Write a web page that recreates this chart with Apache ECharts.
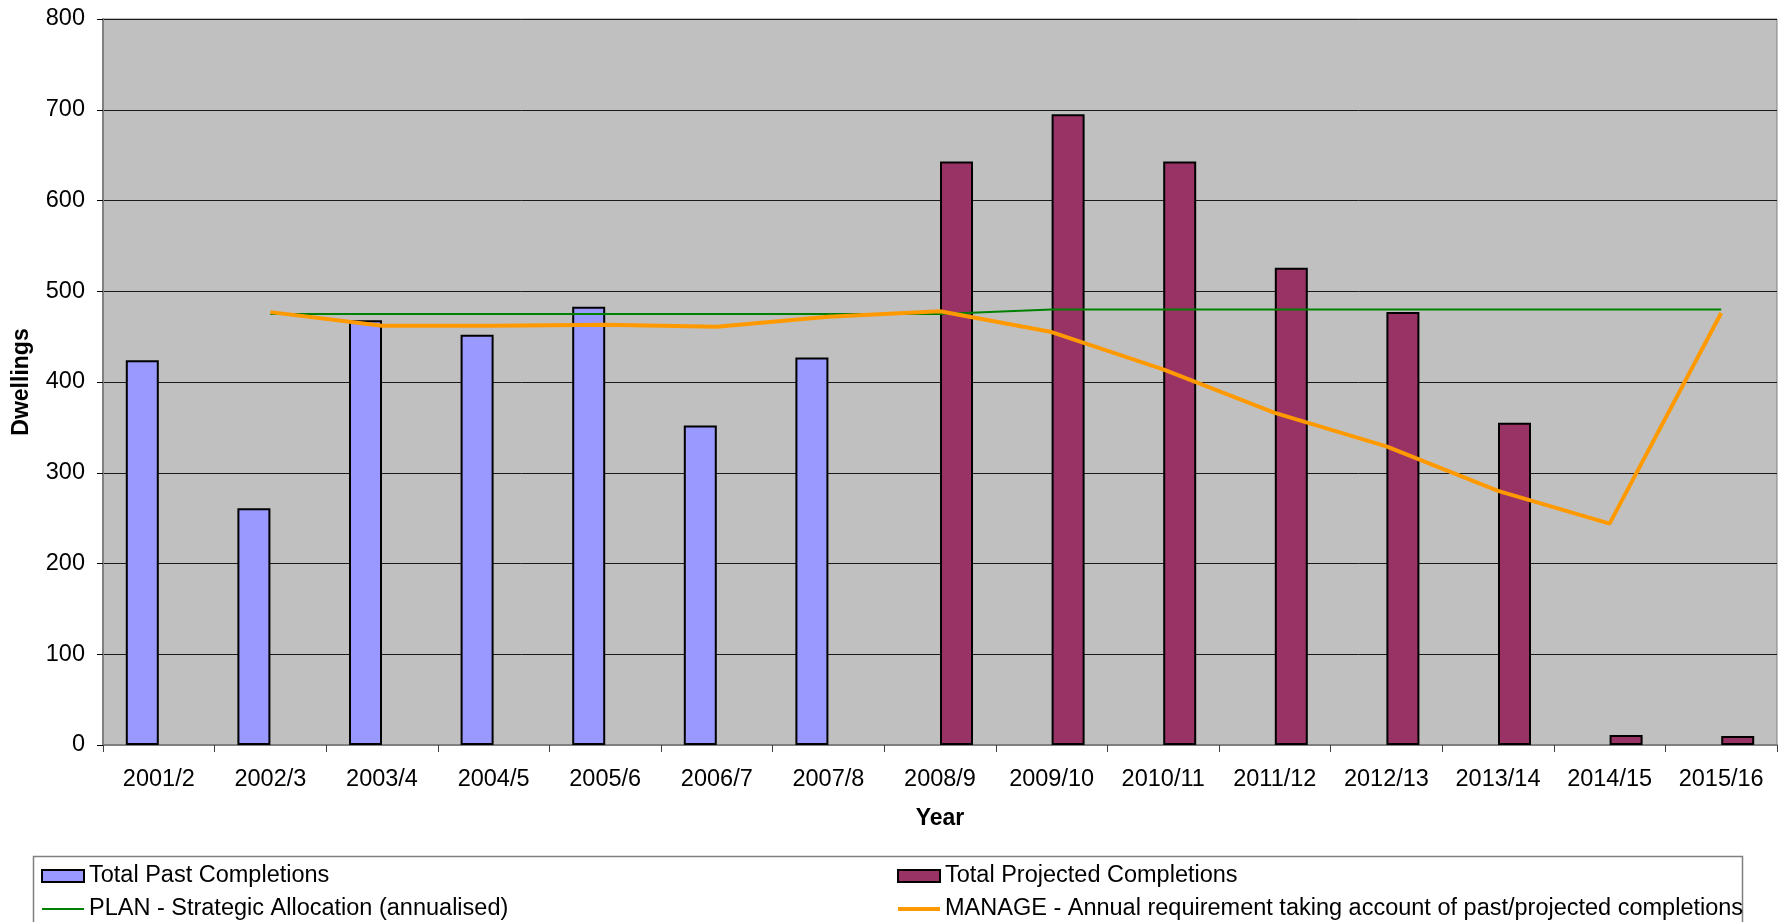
<!DOCTYPE html>
<html>
<head>
<meta charset="utf-8">
<script src="https://cdn.jsdelivr.net/npm/echarts@6/dist/echarts.min.js"></script>
<style>
html,body{margin:0;padding:0;background:#fff;}
#c{width:1779px;height:922px;}
</style>
</head>
<body>
<div id="c"></div>
<script>
var categories = ['2001/2','2002/3','2003/4','2004/5','2005/6','2006/7','2007/8','2008/9','2009/10','2010/11','2011/12','2012/13','2013/14','2014/15','2015/16'];
var pastCompletions = [424, 261, 468, 452, 483, 352, 427, null, null, null, null, null, null, null, null];
var projectedCompletions = [null, null, null, null, null, null, null, 643, 695, 643, 526, 477, 355, 11, 10];
var planAllocation = [null, 475, 475, 475, 475, 475, 475, 475, 480, 480, 480, 480, 480, 480, 480];
var manageRequirement = [null, 477, 462, 462, 463, 461, 472, 478, 455, 414, 366, 329, 280, 244, 476];
var yTicks = {min: 0, max: 800, interval: 100};

var FONT = '"Liberation Sans", Arial, sans-serif';
var chart = echarts.init(document.getElementById('c'), null, {renderer: 'canvas'});
var legendText = {color: '#000', fontSize: 23.5, fontFamily: FONT, lineHeight: 22};
chart.setOption({
  animation: false,
  backgroundColor: '#ffffff',
  grid: {left: 103, right: 2, top: 19, bottom: 177, show: true, backgroundColor: '#C0C0C0', borderColor: '#808080', borderWidth: 1},
  xAxis: {
    type: 'category',
    data: categories,
    name: 'Year',
    nameLocation: 'middle',
    nameGap: 62,
    nameTextStyle: {color: '#000', fontSize: 23, fontWeight: 'bold', fontFamily: FONT},
    axisLine: {lineStyle: {color: '#808080', width: 2}},
    axisTick: {show: true, length: 7, lineStyle: {color: '#404040', width: 1}},
    axisLabel: {color: '#000', fontSize: 23.5, fontFamily: FONT, margin: 23, interval: 0},
    splitLine: {show: false}
  },
  yAxis: {
    type: 'value',
    min: yTicks.min, max: yTicks.max, interval: yTicks.interval,
    name: 'Dwellings',
    nameLocation: 'middle',
    nameGap: 70,
    nameTextStyle: {color: '#000', fontSize: 23, fontWeight: 'bold', fontFamily: FONT},
    axisLine: {show: true, lineStyle: {color: '#808080', width: 2}},
    axisTick: {show: true, length: 6, lineStyle: {color: '#000', width: 1}},
    axisLabel: {color: '#000', fontSize: 23.5, fontFamily: FONT, margin: 18},
    splitLine: {show: true, lineStyle: {color: '#1a1a1a', width: 1}}
  },
  legend: [
    {
      orient: 'vertical', left: 41, top: 864, height: 70, padding: 0, itemGap: 9,
      itemWidth: 42, itemHeight: 12,
      data: [
        {name: 'Total Past Completions', icon: 'rect'},
        {name: 'PLAN - Strategic Allocation (annualised)', icon: 'path://M0,0 L42,0 L42,2 L0,2 Z', itemStyle: {borderWidth: 0}}
      ],
      textStyle: legendText
    },
    {
      orient: 'vertical', left: 897, top: 864, height: 70, padding: 0, itemGap: 9,
      itemWidth: 42, itemHeight: 12,
      data: [
        {name: 'Total Projected Completions', icon: 'rect'},
        {name: 'MANAGE - Annual requirement taking account of past/projected completions', icon: 'path://M0,0 L42,0 L42,4 L0,4 Z', itemStyle: {borderWidth: 0}}
      ],
      textStyle: legendText
    }
  ],
  graphic: [{
    type: 'rect', silent: true, z: -1,
    shape: {x: 33.5, y: 856.5, width: 1709, height: 80},
    style: {fill: 'none', stroke: '#808080', lineWidth: 1.5}
  }],
  series: [
    {
      name: 'Total Past Completions', type: 'bar', data: pastCompletions,
      barWidth: 33, barGap: '0%',
      itemStyle: {color: '#9999FF', borderColor: '#000', borderWidth: 2}
    },
    {
      name: 'Total Projected Completions', type: 'bar', data: projectedCompletions,
      barWidth: 33, barGap: '0%',
      itemStyle: {color: '#993366', borderColor: '#000', borderWidth: 2}
    },
    {
      name: 'PLAN - Strategic Allocation (annualised)', type: 'line', data: planAllocation,
      symbol: 'none', showSymbol: false, connectNulls: false,
      lineStyle: {color: '#008000', width: 2}, itemStyle: {color: '#008000'}, z: 3
    },
    {
      name: 'MANAGE - Annual requirement taking account of past/projected completions', type: 'line', data: manageRequirement,
      symbol: 'none', showSymbol: false,
      lineStyle: {color: '#FF9900', width: 4}, itemStyle: {color: '#FF9900'}, z: 4
    }
  ]
});
</script>
</body>
</html>
